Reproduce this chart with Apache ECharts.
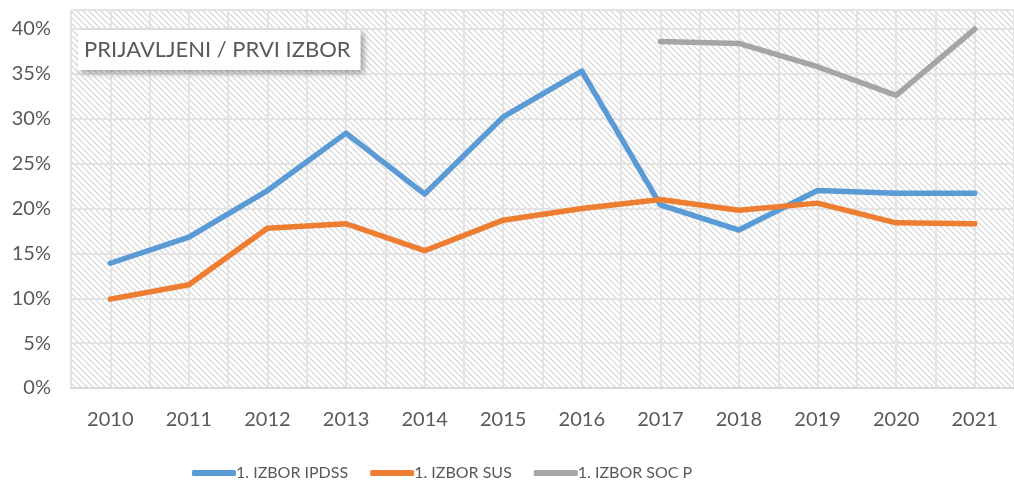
<!DOCTYPE html>
<html><head><meta charset="utf-8">
<script src="https://cdn.jsdelivr.net/npm/echarts@6/dist/echarts.min.js"></script>
<style>html,body{margin:0;padding:0;background:#fff}#c{width:1014px;height:483px}</style>
</head><body><div id="c"></div>
<script>
const years = ['2010','2011','2012','2013','2014','2015','2016','2017','2018','2019','2020','2021'];
const ipdss = [0.139,0.168,0.220,0.284,0.216,0.302,0.353,0.204,0.176,0.220,0.217,0.217];
const sus   = [0.099,0.115,0.178,0.183,0.153,0.187,0.200,0.210,0.198,0.206,0.184,0.183];
const socp  = [null,null,null,null,null,null,null,0.386,0.384,0.358,0.326,0.400];
const seriesNames = ['1. IZBOR IPDSS','1. IZBOR SUS','1. IZBOR SOC P'];
const titleText = 'PRIJAVLJENI / PRVI IZBOR';

function hatch(){
  const c = document.createElement('canvas'); c.width = 6; c.height = 6;
  const g = c.getContext('2d');
  g.fillStyle = '#ffffff'; g.fillRect(0,0,6,6);
  g.strokeStyle = '#d4d4d4'; g.lineWidth = 1.2;
  g.beginPath();
  g.moveTo(-1,-1); g.lineTo(7,7);
  g.moveTo(-4,2); g.lineTo(4,10);
  g.moveTo(2,-4); g.lineTo(10,4);
  g.stroke();
  return c;
}
const FONT = 'Lato';
const TXT = '#595959';
const chart = echarts.init(document.getElementById('c'), null, {renderer:'canvas'});
chart.setOption({
  animation:false,
  textStyle:{fontFamily:FONT},
  title:{text:titleText, left:78, top:30, padding:[9,10,9,6], itemGap:0,
         backgroundColor:'#ffffff', shadowBlur:6, shadowOffsetX:3, shadowOffsetY:3, shadowColor:'rgba(0,0,0,0.35)',
         textStyle:{color:TXT, fontSize:22, fontWeight:'normal', fontFamily:FONT, lineHeight:22}},
  grid:{left:71, top:10, width:949, height:378, show:true, borderWidth:0,
        backgroundColor:{image:hatch(), repeat:'repeat'}},
  legend:{top:460, left:187, itemWidth:44, itemHeight:6, itemGap:22, icon:'roundRect',
          textStyle:{color:TXT, fontSize:16, fontFamily:FONT, padding:[0,0,0,-5]}, data:seriesNames},
  xAxis:[{type:'category', data:years, boundaryGap:true,
          axisLine:{show:true, lineStyle:{color:'#d9d9d9', width:2}},
          axisTick:{show:false},
          axisLabel:{color:TXT, fontSize:20, margin:22, fontFamily:FONT},
          splitLine:{show:false}},
         {type:'value', min:0, max:24, interval:1, show:true,
          axisLine:{show:false}, axisTick:{show:false}, axisLabel:{show:false},
          splitLine:{show:true, lineStyle:{color:'#e3e3e3', width:2}}}],
  yAxis:{type:'value', min:0, max:0.4212, interval:0.05,
         axisLine:{show:false}, axisTick:{show:false},
         axisLabel:{color:TXT, fontSize:20, margin:20, fontFamily:FONT,
           formatter:function(v){ const p=Math.round(v*100); return (p%5===0 && Math.abs(v*100-p)<1e-6)? p+'%' : ''; }},
         splitLine:{show:true, lineStyle:{color:'#e3e3e3', width:2}}},
  series:[
    {name:seriesNames[0], type:'line', data:ipdss, xAxisIndex:0, symbol:'none', lineStyle:{width:5.5, color:'#5B9BD5', cap:'round', join:'round'}, itemStyle:{color:'#5B9BD5'}, z:3},
    {name:seriesNames[1], type:'line', data:sus, xAxisIndex:0, symbol:'none', lineStyle:{width:5.5, color:'#ED7D31', cap:'round', join:'round'}, itemStyle:{color:'#ED7D31'}, z:4},
    {name:seriesNames[2], type:'line', data:socp, xAxisIndex:0, symbol:'none', connectNulls:false, lineStyle:{width:5.5, color:'#A5A5A5', cap:'round', join:'round'}, itemStyle:{color:'#A5A5A5'}, z:3}
  ]
});
</script></body></html>
